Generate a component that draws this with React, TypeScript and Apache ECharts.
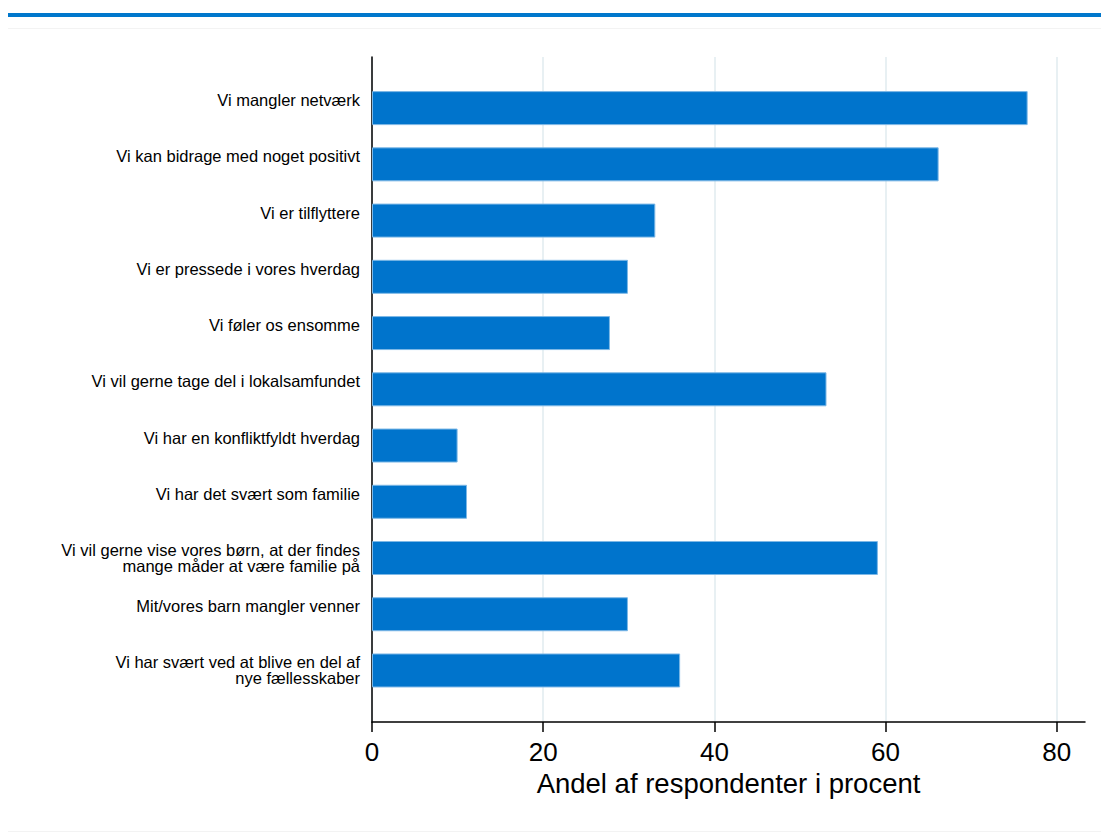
import React, { useEffect, useRef } from "react";
import * as echarts from "echarts";

const categories: string[] = [
  "Vi mangler netværk",
  "Vi kan bidrage med noget positivt",
  "Vi er tilflyttere",
  "Vi er pressede i vores hverdag",
  "Vi føler os ensomme",
  "Vi vil gerne tage del i lokalsamfundet",
  "Vi har en konfliktfyldt hverdag",
  "Vi har det svært som familie",
  "Vi vil gerne vise vores børn, at der findes\nmange måder at være familie på",
  "Mit/vores barn mangler venner",
  "Vi har svært ved at blive en del af\nnye fællesskaber",
];

const values: number[] = [76.6, 66.2, 33.1, 29.9, 27.8, 53.1, 10.0, 11.1, 59.1, 29.9, 36.0];

const xTicks: number[] = [0, 20, 40, 60, 80];
const xMax = 83.3;
const xTitle = "Andel af respondenter i procent";

const FONT = "'Liberation Sans', Arial, Helvetica, sans-serif";

export default function App() {
  const ref = useRef<HTMLDivElement>(null);

  useEffect(() => {
    document.body.style.margin = "0";
    if (!ref.current) return;
    const chart = echarts.init(ref.current, undefined, { renderer: "svg" });
    const option: any = {
      animation: false,
      backgroundColor: "#ffffff",
      textStyle: { fontFamily: FONT },
      graphic: [
        { type: "rect", shape: { x: 8, y: 13, width: 1093, height: 4 }, style: { fill: "#0077cc" }, silent: true },
        { type: "line", shape: { x1: 8, y1: 28.5, x2: 1101, y2: 28.5 }, style: { stroke: "#f3f3f3", lineWidth: 1 }, silent: true },
        { type: "line", shape: { x1: 8, y1: 831.5, x2: 1101, y2: 831.5 }, style: { stroke: "#f3f3f3", lineWidth: 1 }, silent: true },
      ],
      grid: [
        { left: 372, right: 16, top: 57, bottom: 118, containLabel: false },
        { left: 372, right: 16, top: 80, bottom: 141.4, containLabel: false },
      ],
      xAxis: [
        {
          type: "value",
          gridIndex: 0,
          min: 0,
          max: xMax,
          interval: 20,
          axisLine: { show: true, lineStyle: { color: "#000", width: 1.5 } },
          axisTick: { show: true, length: 10, lineStyle: { color: "#000", width: 1.5 }, customValues: xTicks },
          axisLabel: {
            show: true,
            customValues: xTicks,
            margin: 17,
            fontSize: 26,
            color: "#000",
            fontFamily: FONT,
          },
          splitLine: { show: true, lineStyle: { color: "#e8f0f3", width: 2 } },
          name: xTitle,
          nameLocation: "middle",
          nameGap: 46,
          nameTextStyle: { fontSize: 27.5, color: "#000", fontFamily: FONT },
        },
        {
          type: "value",
          gridIndex: 1,
          min: 0,
          max: xMax,
          show: false,
          splitLine: { show: false },
        },
      ],
      yAxis: [
        {
          type: "value",
          gridIndex: 0,
          min: 0,
          max: 1,
          axisLine: { show: true, lineStyle: { color: "#000", width: 1.5 } },
          axisTick: { show: false },
          axisLabel: { show: false },
          splitLine: { show: false },
        },
        {
          type: "category",
          gridIndex: 1,
          data: categories,
          inverse: true,
          axisLine: { show: false },
          axisTick: { show: false },
          splitLine: { show: false },
          axisLabel: {
            margin: 12,
            fontSize: 16.5,
            lineHeight: 16,
            color: "#000",
            fontFamily: FONT,
            align: "right",
            formatter: (v: string) => (v.indexOf("\n") >= 0 ? v : v + "\n "),
          },
        },
      ],
      series: [
        {
          type: "bar",
          xAxisIndex: 1,
          yAxisIndex: 1,
          data: values,
          barWidth: 34,
          itemStyle: { color: "#0074cc", borderColor: "#7db8e6", borderWidth: 1 },
          silent: true,
        },
      ],
    };
    chart.setOption(option);
    return () => chart.dispose();
  }, []);

  return <div ref={ref} style={{ width: 1101, height: 840 }} />;
}
